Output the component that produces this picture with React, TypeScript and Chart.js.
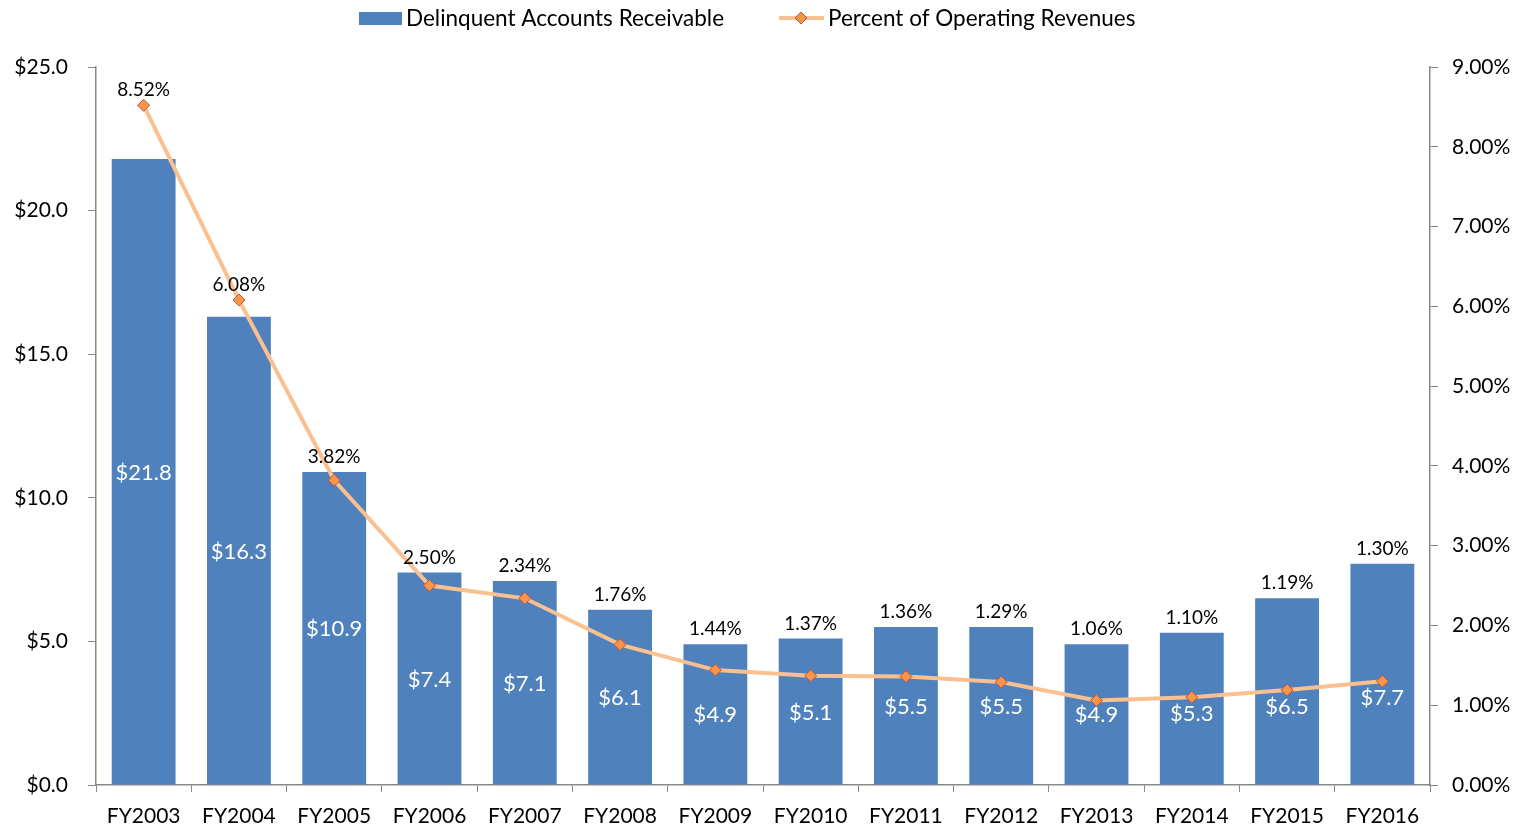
import React, { useEffect, useRef } from "react";
import { Chart, registerables } from "chart.js";

Chart.register(...registerables);

const categories = ["FY2003","FY2004","FY2005","FY2006","FY2007","FY2008","FY2009","FY2010","FY2011","FY2012","FY2013","FY2014","FY2015","FY2016"];
const receivables = [21.8,16.3,10.9,7.4,7.1,6.1,4.9,5.1,5.5,5.5,4.9,5.3,6.5,7.7];
const percentRevenues = [8.52,6.08,3.82,2.50,2.34,1.76,1.44,1.37,1.36,1.29,1.06,1.10,1.19,1.30];
const seriesNames = ["Delinquent Accounts Receivable", "Percent of Operating Revenues"];

const FONT = "Lato, 'DejaVu Sans', sans-serif";
const BAR = "#4F81BD";
const LINE = "#FAC08F";
const MK_FILL = "#F79646";
const MK_BORDER = "#C0504D";

const labelsPlugin = {
  id: "valueLabels",
  afterDatasetDraw(chart: any, args: any) {
    if (args.index !== 0) return;
    const ctx = chart.ctx;
    const bars = chart.getDatasetMeta(0).data;
    const pts = chart.getDatasetMeta(1).data;
    ctx.save();
    ctx.textAlign = "center";
    ctx.textBaseline = "middle";
    ctx.font = `22px ${FONT}`;
    ctx.fillStyle = "#FFFFFF";
    bars.forEach((b: any, i: number) => {
      let y = (b.y + b.base) / 2 + 1;
      const p = pts[i];
      if (p && Math.abs(y - p.y) < 14) y = p.y + 17;
      ctx.fillText("$" + receivables[i].toFixed(1), b.x, y);
    });
    ctx.restore();
  },
  afterDatasetsDraw(chart: any) {
    const ctx = chart.ctx;
    const bars = chart.getDatasetMeta(0).data;
    const pts = chart.getDatasetMeta(1).data;
    ctx.save();
    ctx.textAlign = "center";
    ctx.textBaseline = "middle";
    ctx.font = `19px ${FONT}`;
    ctx.fillStyle = "#000000";
    pts.forEach((p: any, i: number) => {
      const b = bars[i];
      const top = Math.min(b.y, p.y);
      ctx.fillText(percentRevenues[i].toFixed(2) + "%", p.x, top - 15);
    });
    ctx.restore();
  },
};

const legendPlugin = {
  id: "customLegend",
  afterDraw(chart: any) {
    const ctx = chart.ctx;
    ctx.save();
    ctx.font = `22.5px ${FONT}`;
    ctx.textBaseline = "middle";
    ctx.textAlign = "left";
    const y = 18;
    let x = 359;
    ctx.fillStyle = BAR;
    ctx.fillRect(x, y - 6, 43, 13);
    ctx.fillStyle = "#000";
    ctx.fillText(seriesNames[0], x + 47, y + 1);
    x = 779;
    ctx.strokeStyle = LINE;
    ctx.lineWidth = 4;
    ctx.beginPath();
    ctx.moveTo(x, y);
    ctx.lineTo(x + 45, y);
    ctx.stroke();
    ctx.fillStyle = MK_FILL;
    ctx.strokeStyle = MK_BORDER;
    ctx.lineWidth = 1;
    ctx.beginPath();
    const cx = x + 22, r = 6;
    ctx.moveTo(cx, y - r);
    ctx.lineTo(cx + r, y);
    ctx.lineTo(cx, y + r);
    ctx.lineTo(cx - r, y);
    ctx.closePath();
    ctx.fill();
    ctx.stroke();
    ctx.fillStyle = "#000";
    ctx.fillText(seriesNames[1], x + 49, y + 1);
    ctx.restore();
  },
};

export default function App() {
  const ref = useRef<HTMLCanvasElement>(null);
  useEffect(() => {
    if (!ref.current) return;
    const chart = new Chart(ref.current, {
      type: "bar",
      data: {
        labels: categories,
        datasets: [
          {
            type: "bar",
            label: seriesNames[0],
            data: receivables,
            backgroundColor: BAR,
            borderWidth: 0,
            barPercentage: 0.67,
            categoryPercentage: 1,
            yAxisID: "y",
            order: 2,
          },
          {
            type: "line",
            label: seriesNames[1],
            data: percentRevenues,
            borderColor: LINE,
            borderWidth: 4,
            tension: 0,
            pointStyle: "rectRot",
            pointRadius: 6,
            pointBackgroundColor: MK_FILL,
            pointBorderColor: MK_BORDER,
            pointBorderWidth: 1,
            yAxisID: "y1",
            order: 1,
          },
        ],
      },
      options: {
        animation: false,
        responsive: true,
        maintainAspectRatio: false,
        layout: { padding: { top: 67, left: 0, right: 0, bottom: 0 } },
        plugins: {
          legend: { display: false },
          tooltip: { enabled: false },
        },
        scales: {
          x: {
            offset: true,
            afterFit: (s: any) => { s.height = 45; },
            grid: { display: true, drawOnChartArea: false, drawTicks: true, tickLength: 7, color: "#888", offset: true },
            border: { display: true, color: "#888", width: 1.5 },
            ticks: { color: "#000", font: { family: FONT, size: 21 }, padding: 12, maxRotation: 0, autoSkip: false },
          },
          y: {
            position: "left",
            min: 0,
            max: 25,
            afterFit: (s: any) => { s.width = 96; },
            grid: { drawOnChartArea: false, drawTicks: true, tickLength: 8, color: "#888" },
            border: { display: true, color: "#888", width: 1.5 },
            ticks: {
              stepSize: 5,
              color: "#000",
              padding: 20,
              font: { family: FONT, size: 21 },
              callback: (v: any) => "$" + Number(v).toFixed(1),
            },
          },
          y1: {
            position: "right",
            min: 0,
            max: 9,
            afterFit: (s: any) => { s.width = 90; },
            grid: { drawOnChartArea: false, drawTicks: true, tickLength: 8, color: "#888" },
            border: { display: true, color: "#888", width: 1.5 },
            ticks: {
              stepSize: 1,
              color: "#000",
              padding: 14,
              font: { family: FONT, size: 21 },
              callback: (v: any) => Number(v).toFixed(2) + "%",
            },
          },
        },
      },
      plugins: [labelsPlugin, legendPlugin],
    });
    return () => chart.destroy();
  }, []);
  return (
    <div style={{ position: "fixed", left: 0, top: 0, width: 1520, height: 830, background: "#fff" }}>
      <canvas ref={ref} />
    </div>
  );
}
